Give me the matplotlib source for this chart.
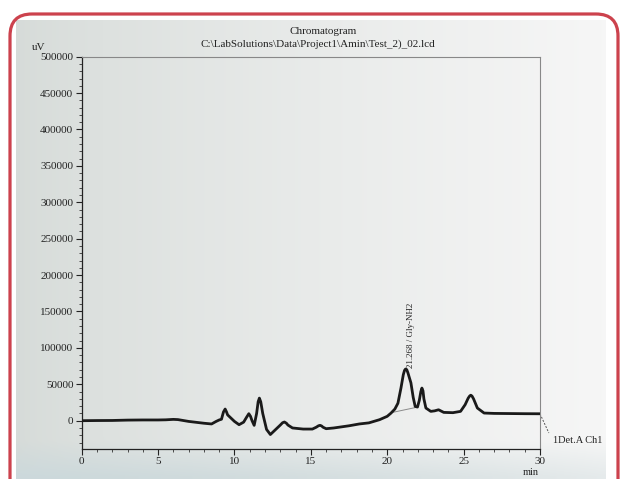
import numpy as np
import matplotlib
matplotlib.use('Agg')
import matplotlib.pyplot as plt
from matplotlib.patches import FancyBboxPatch
from matplotlib.transforms import IdentityTransform
from matplotlib.ticker import MultipleLocator, FixedLocator
from matplotlib.lines import Line2D

plt.rcParams['font.family'] = ['Liberation Serif', 'DejaVu Serif']

# ---- data ----
time_min = [0, 1, 2, 3, 4, 5, 5.5, 6.0, 6.3, 7.0, 8.0, 8.5, 8.8, 9.0, 9.15, 9.28, 9.39,
            9.48, 9.55, 9.7, 10.0, 10.3, 10.6, 10.8, 10.94, 11.05, 11.15, 11.29, 11.45,
            11.55, 11.63, 11.72, 11.85, 12.1, 12.35, 12.7, 13.0, 13.15, 13.27, 13.4,
            13.5, 13.8, 14.5, 15.1, 15.35, 15.5, 15.6, 15.7, 15.8, 16.0, 16.5, 17.0,
            17.5, 18.17, 18.8, 19.5, 20.0, 20.25, 20.5, 20.7, 20.9, 21.05, 21.13,
            21.2, 21.28, 21.35, 21.55, 21.7, 21.83, 21.98, 22.1, 22.2, 22.27, 22.34,
            22.4, 22.53, 22.85, 23.1, 23.36, 23.7, 24.3, 24.8, 25.1, 25.3, 25.4,
            25.47, 25.55, 25.65, 25.9, 26.34, 27, 28, 29, 30]
signal_uV = [0, 200, 300, 800, 1000, 1000, 1200, 1800, 1500, -1000, -3500, -4500,
             -1000, 1000, 2000, 12000, 16000, 12000, 8000, 5000, -1000, -5500, -2000,
             5000, 9600, 6000, 0, -6400, 10000, 26000, 31000, 26000, 10000, -12000,
             -19000, -12000, -6000, -2800, -1800, -3500, -6000, -10000, -11500,
             -11500, -9000, -7000, -6400, -7200, -9000, -11000, -10000, -8500, -7000,
             -4500, -3000, 1400, 6000, 10500, 16000, 24000, 45000, 63000, 69000,
             71000, 70000, 66000, 52000, 32000, 19600, 18700, 28000, 40000, 44800,
             41000, 30000, 17400, 12800, 13500, 15000, 11400, 11000, 12800, 22000,
             31000, 34000, 35000, 33800, 30000, 17400, 10500, 10000, 9800, 9600, 9500]
baseline_t = [20.35, 21.9]
baseline_v = [11400, 18300]
tail_t = [30.0, 30.58]
tail_v = [9500, -16900]
peak_label = '21.268 / Gly-NH2'
peak_label_pos = (21.54, 73000)
x_ticks = [0, 5, 10, 15, 20, 25, 30]
y_ticks = list(range(0, 500001, 50000))
title1 = 'Chromatogram'
title2 = 'C:\\LabSolutions\\Data\\Project1\\Amin\\Test_2)_02.lcd'

W, H = 622, 479
fig = plt.figure(figsize=(W / 100, H / 100), dpi=100)
fig.patch.set_facecolor('white')

def fx(px):
    return px / W

def fy(py):
    return 1 - py / H

# ---- photo paper background ----
bg = fig.add_axes([fx(16), 0, (606 - 16) / W, (479 - 20) / H], zorder=-5)
nx, ny = 120, 90
xs = np.linspace(0, 1, nx)[None, :, None]
ys = np.linspace(0, 1, ny)[:, None, None]
left_c = np.array([0.84, 0.86, 0.85])
right_c = np.array([0.965, 0.965, 0.965])
img = left_c + (right_c - left_c) * xs ** 0.8
bottom_c = np.array([0.80, 0.85, 0.86])
wb = np.clip((ys - 0.92) / 0.08, 0, 1) * (1 - xs * 0.6)
img = img * (1 - wb) + bottom_c * wb
img = np.broadcast_to(img, (ny, nx, 3))
bg.imshow(img, aspect='auto', extent=[0, 1, 0, 1], origin='upper', interpolation='bilinear')
bg.set_axis_off()

# red rounded frame (pixel coords)
frame = FancyBboxPatch((10, -40), 608, 465 + 40, boxstyle='round,pad=0,rounding_size=22',
                       transform=IdentityTransform(), fill=False,
                       edgecolor=(0.80, 0.26, 0.30), linewidth=2.3, zorder=10)
fig.add_artist(frame)

# ---- main axes ----
L, R, T, B = 81.7, 540.0, 56.7, 449.3
ax = fig.add_axes([fx(L), fy(B), (R - L) / W, (B - T) / H])
ax.set_facecolor('none')
ax.set_xlim(0, 30)
ax.set_ylim(-39300, 500000)

ax.plot(time_min, signal_uV, color='#1a1a1a', lw=2.0, solid_joinstyle='round', zorder=4)
ax.plot(baseline_t, baseline_v, color='#8a8a8a', lw=0.7, zorder=3)
ax.add_line(Line2D(tail_t, tail_v, color='#555555', lw=0.7, linestyle=(0, (2, 1.5)),
                   clip_on=False))
ax.text(30.84, -26600, '1Det.A Ch1', fontsize=7.5, ha='left', va='center',
        color='#222222', clip_on=False)
ax.text(peak_label_pos[0], peak_label_pos[1], peak_label, rotation=90, fontsize=6.5,
        ha='center', va='bottom', color='#222222')

ax.xaxis.set_major_locator(FixedLocator(x_ticks))
ax.xaxis.set_minor_locator(MultipleLocator(1))
ax.yaxis.set_major_locator(FixedLocator(y_ticks))
ax.yaxis.set_minor_locator(MultipleLocator(10000))
ax.set_xticklabels([str(v) for v in x_ticks])
ax.set_yticklabels([str(v) for v in y_ticks])
ax.tick_params(which='major', direction='out', length=4, width=0.8, labelsize=8,
               colors='#222222', pad=2)
ax.tick_params(axis='x', which='major', pad=1.5)
ax.tick_params(which='minor', direction='out', length=2.2, width=0.6, colors='#333333')
for s in ['left', 'bottom']:
    ax.spines[s].set_color('#222222')
    ax.spines[s].set_linewidth(0.9)
for s in ['top', 'right']:
    ax.spines[s].set_color('#888888')
    ax.spines[s].set_linewidth(0.8)

fig.text(fx(531), fy(468), 'min', fontsize=7.5, ha='center', va='top', color='#222222')
fig.text(fx(39), fy(47), 'uV', fontsize=8, ha='center', va='center', color='#222222')
fig.text(fx(323), fy(32), title1, fontsize=8, ha='center', va='center', color='#222222')
fig.text(fx(318), fy(44), title2, fontsize=8, ha='center', va='center', color='#222222')

fig.savefig('out.png', dpi=100)
